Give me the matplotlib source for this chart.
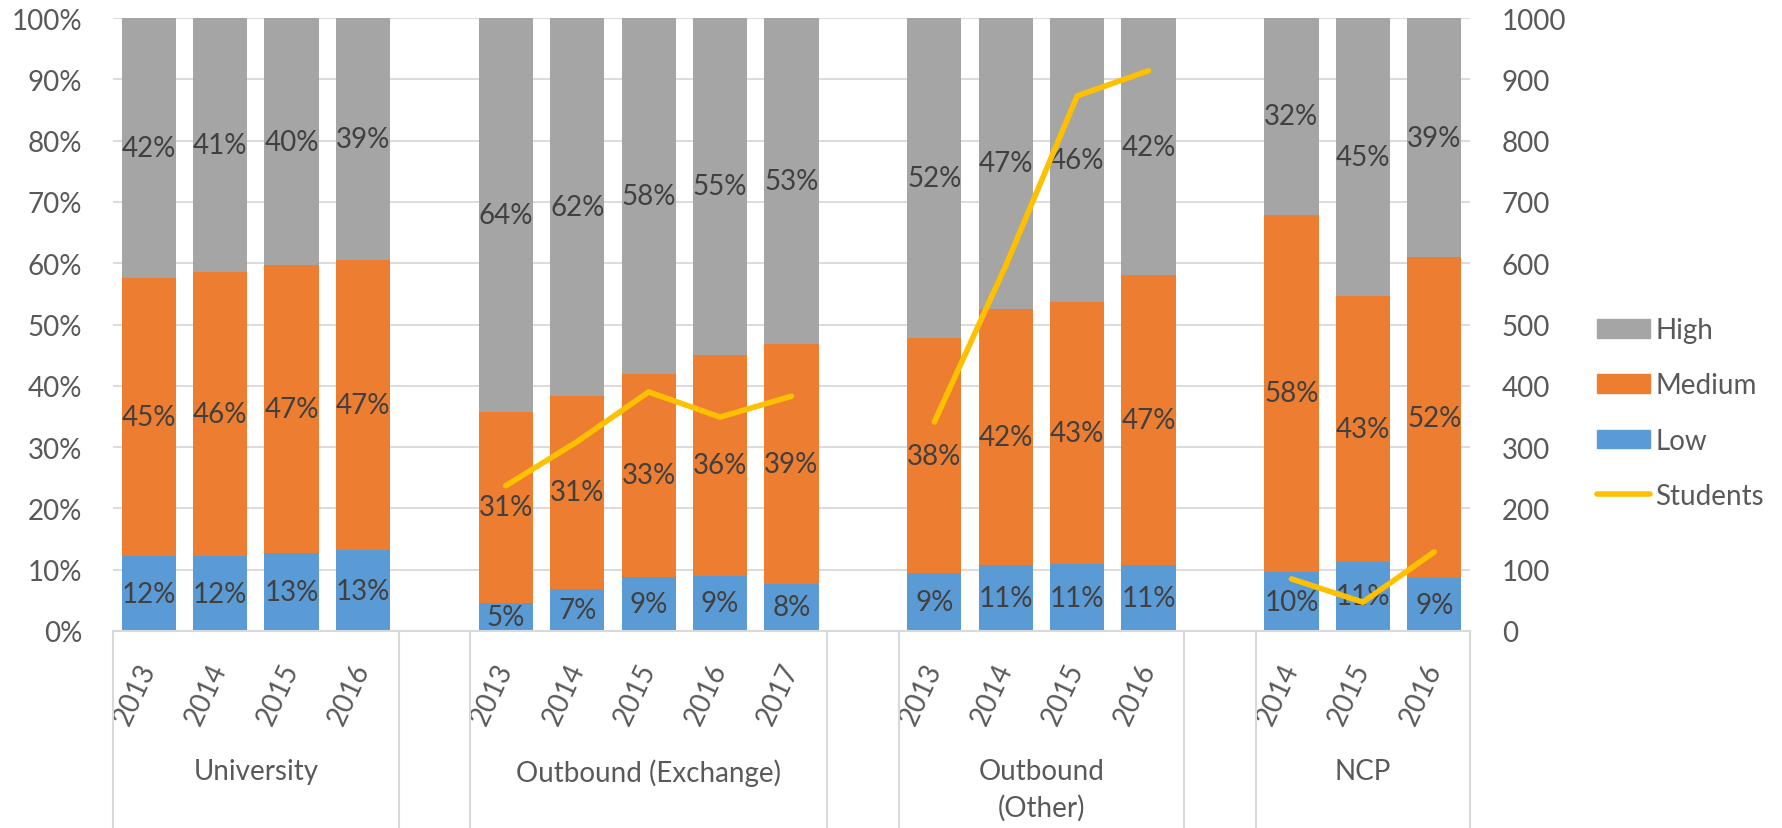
import numpy as np
import matplotlib.pyplot as plt
from matplotlib.patches import Patch
from matplotlib.lines import Line2D

plt.rcParams['font.family'] = ['Lato', 'DejaVu Sans']

groups = ['University', 'Outbound (Exchange)', 'Outbound\n(Other)', 'NCP']
years = [[2013, 2014, 2015, 2016],
         [2013, 2014, 2015, 2016, 2017],
         [2013, 2014, 2015, 2016],
         [2014, 2015, 2016]]

# shares in percent, per group
low = [[12.2, 12.2, 12.7, 13.2],
       [4.6, 6.9, 8.8, 9.0, 7.7],
       [9.4, 10.8, 10.9, 10.7],
       [9.6, 11.3, 8.6]]
medium = [[45.4, 46.4, 47.0, 47.4],
          [31.2, 31.4, 33.2, 36.1, 39.1],
          [38.4, 41.8, 42.7, 47.3],
          [58.3, 43.3, 52.4]]
high = [[42.4, 41.4, 40.3, 39.4],
        [64.2, 61.7, 58.0, 54.9, 53.2],
        [52.2, 47.4, 46.4, 42.0],
        [32.1, 45.4, 39.0]]

# number of students (right axis)
students = [None,
            [237, 309, 390, 349, 383],
            [341, 596, 873, 914],
            [85, 47, 129]]

c_high = '#A5A5A5'
c_med = '#ED7D31'
c_low = '#5B9BD5'
c_line = '#FFC000'
c_grid = '#D9D9D9'
c_txt = '#404040'
c_tick = '#595959'
fs = 20

fig = plt.figure(figsize=(17.83, 8.29), dpi=100)
ax = fig.add_axes([113 / 1783, 1 - 632 / 829, (1470 - 113) / 1783, 613 / 829])
ax2 = ax.twinx()

# slot positions with one empty slot between groups
pos = []
start = 0
for g in years:
    pos.append(np.arange(start, start + len(g)))
    start += len(g) + 1
nslots = start - 1

w = 0.76
for gi in range(len(groups)):
    x = pos[gi]
    lo = np.array(low[gi])
    me = np.array(medium[gi])
    hi = np.array(high[gi])
    ax.bar(x, lo, w, color=c_low, zorder=2)
    ax.bar(x, me, w, bottom=lo, color=c_med, zorder=2)
    ax.bar(x, hi, w, bottom=lo + me, color=c_high, zorder=2)
    for xi, a, b, c in zip(x, lo, me, hi):
        ax.text(xi, a / 2, f'{a:.0f}%', ha='center', va='center', fontsize=fs, color=c_txt, zorder=3)
        ax.text(xi, a + b / 2, f'{b:.0f}%', ha='center', va='center', fontsize=fs, color=c_txt, zorder=3)
        ax.text(xi, a + b + c / 2, f'{c:.0f}%', ha='center', va='center', fontsize=fs, color=c_txt, zorder=3)
    if students[gi] is not None:
        ax2.plot(x, students[gi], color=c_line, lw=4, solid_capstyle='round', zorder=4)

ax.set_xlim(-0.5, nslots - 0.5)
ax.set_ylim(0, 100)
ax.set_yticks(np.arange(0, 101, 10))
ax.set_yticklabels([f'{v}%' for v in range(0, 101, 10)])
ax.yaxis.grid(True, color=c_grid, lw=1.3, zorder=0)
ax.set_axisbelow(True)
ax.tick_params(axis='y', length=0, pad=22, labelsize=fs, labelcolor=c_tick)

ax2.set_ylim(0, 1000)
ax2.set_yticks(np.arange(0, 1001, 100))
ax2.tick_params(axis='y', length=0, pad=23, labelsize=fs, labelcolor=c_tick)

for a in (ax, ax2):
    for s in ['top', 'left', 'right', 'bottom']:
        a.spines[s].set_visible(False)

# category axis: years, group names and separators
xt = np.concatenate(pos)
xl = [str(y) for g in years for y in g]
ax.set_xticks(xt)
ax.set_xticklabels(xl, rotation=65, ha='right', va='center', rotation_mode='anchor')
ax.tick_params(axis='x', length=0, pad=24, labelsize=fs, labelcolor=c_tick)

tr = ax.get_xaxis_transform()
ybot = -(1 - 632 / 829 + 0.5) / (613 / 829)
ax.plot([-0.5, nslots - 0.5], [0, 0], transform=tr, color=c_grid, lw=1.5, clip_on=False, zorder=5)
seps = []
for x in pos:
    seps += [x[0] - 0.5, x[-1] + 0.5]
for s in seps:
    ax.plot([s, s], [0, ybot], transform=tr, color=c_grid, lw=1.5, clip_on=False)
for gi, name in enumerate(groups):
    ax.text(pos[gi].mean(), -0.207, name, transform=tr, ha='center', va='top',
            fontsize=fs, color=c_tick, linespacing=1.45)

handles = [Patch(color=c_high), Patch(color=c_med), Patch(color=c_low),
           Line2D([], [], color=c_line, lw=4, solid_capstyle='round')]
fig.legend(handles, ['High', 'Medium', 'Low', 'Students'], loc='center left',
           bbox_to_anchor=(1572 / 1783, 1 - 414 / 829), frameon=False, fontsize=fs,
           handlelength=1.9, handleheight=0.65, handletextpad=0.2, labelspacing=1.05,
           labelcolor=c_tick)

fig.savefig('out.png', dpi=100)
